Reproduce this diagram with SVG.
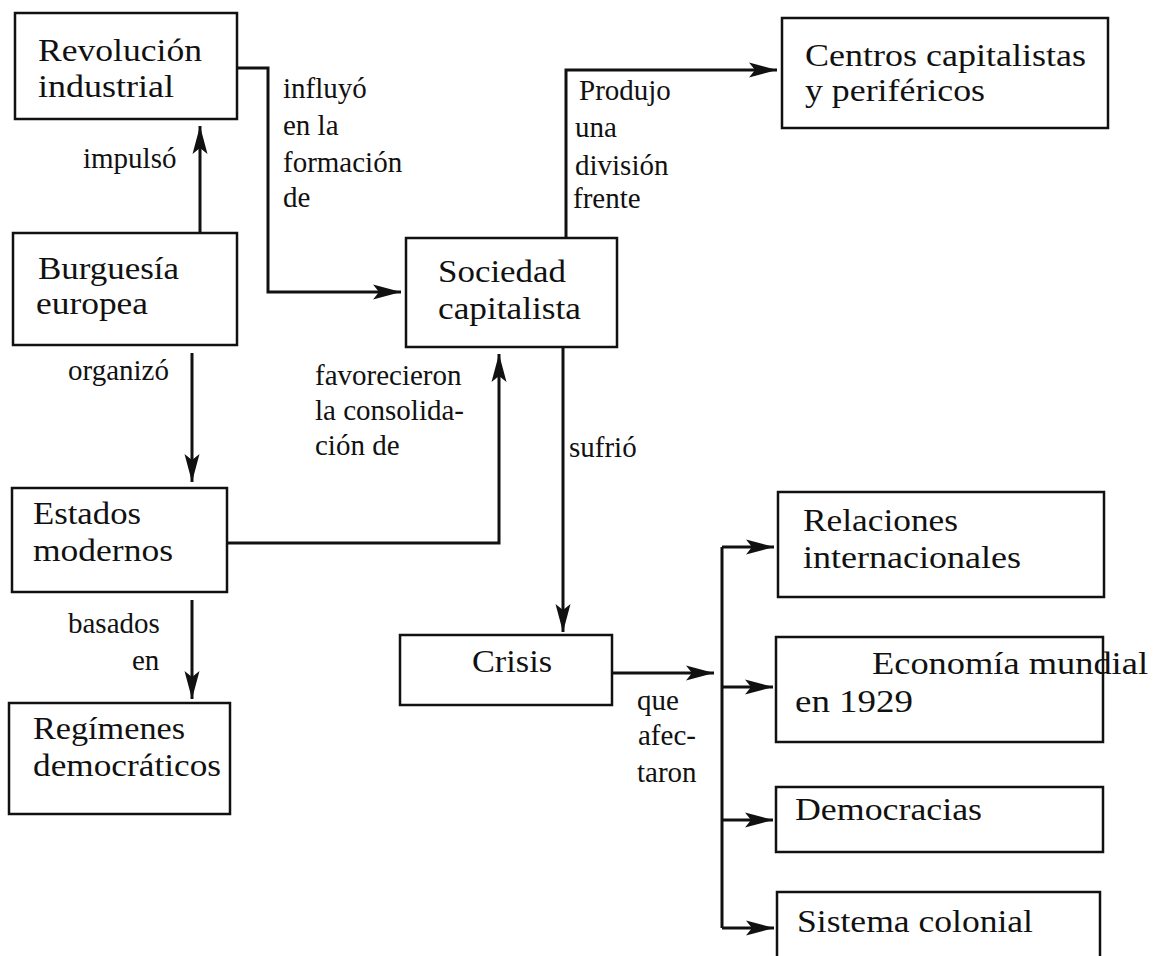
<svg xmlns="http://www.w3.org/2000/svg" width="1158" height="956" viewBox="0 0 1158 956">
<defs>
<style>
.box{fill:#fff;stroke:#111;stroke-width:2.5}
.con{fill:none;stroke:#111;stroke-width:3}
</style>
<marker id="ah" markerUnits="userSpaceOnUse" markerWidth="30" markerHeight="18" refX="28" refY="9" orient="auto">
<path d="M0,1.5 L28,9 L0,16.5 L6,9 z" fill="#111"/>
</marker>
</defs>
<rect width="1158" height="956" fill="#fff"/>

<g id="connectors">
<path class="con" d="M237,68 H268 V292 H401" marker-end="url(#ah)"/>
<path class="con" d="M200,233 V126" marker-end="url(#ah)"/>
<path class="con" d="M192,353 V482" marker-end="url(#ah)"/>
<path class="con" d="M226,543 H499 V354" marker-end="url(#ah)"/>
<path class="con" d="M192,600 V699" marker-end="url(#ah)"/>
<path class="con" d="M566,238 V70 H777" marker-end="url(#ah)"/>
<path class="con" d="M563,347 V632" marker-end="url(#ah)"/>
<path class="con" d="M612,673 H714" marker-end="url(#ah)"/>
<path class="con" d="M722,547 V928"/>
<path class="con" d="M722,547 H774" marker-end="url(#ah)"/>
<path class="con" d="M722,687 H773" marker-end="url(#ah)"/>
<path class="con" d="M722,820 H773" marker-end="url(#ah)"/>
<path class="con" d="M722,928 H774" marker-end="url(#ah)"/>
</g>

<g id="labels" font-family="'Liberation Serif','Times New Roman',serif" font-size="29" fill="#111">
<text x="83" y="168">impulsó</text>
<text x="283" y="98">influyó</text>
<text x="283" y="135">en la</text>
<text x="283" y="172">formación</text>
<text x="283" y="207">de</text>
<text x="68" y="380">organizó</text>
<text x="315" y="385">favorecieron</text>
<text x="315" y="420">la consolida-</text>
<text x="315" y="455">ción de</text>
<text x="68" y="633">basados</text>
<text x="132" y="670">en</text>
<text x="579" y="100">Produjo</text>
<text x="575" y="137">una</text>
<text x="575" y="175">división</text>
<text x="573" y="208">frente</text>
<text x="569" y="457">sufrió</text>
<text x="637" y="710">que</text>
<text x="638" y="745">afec-</text>
<text x="637" y="782">taron</text>
</g>

<g id="nodes" font-family="'Liberation Serif','Times New Roman',serif" font-size="32" fill="#111">
<g id="revolucion">
<rect class="box" x="15" y="13" width="222" height="106"/>
<text x="38" y="61" textLength="164" lengthAdjust="spacingAndGlyphs">Revolución</text>
<text x="38" y="97" textLength="136" lengthAdjust="spacingAndGlyphs">industrial</text>
</g>
<g id="burguesia">
<rect class="box" x="13" y="233" width="224" height="112"/>
<text x="38" y="279" textLength="141" lengthAdjust="spacingAndGlyphs">Burguesía</text>
<text x="36" y="314" textLength="112" lengthAdjust="spacingAndGlyphs">europea</text>
</g>
<g id="estados">
<rect class="box" x="12" y="488" width="215" height="104"/>
<text x="33" y="524" textLength="108" lengthAdjust="spacingAndGlyphs">Estados</text>
<text x="33" y="561" textLength="140" lengthAdjust="spacingAndGlyphs">modernos</text>
</g>
<g id="regimenes">
<rect class="box" x="9" y="703" width="221" height="111"/>
<text x="33" y="739" textLength="152" lengthAdjust="spacingAndGlyphs">Regímenes</text>
<text x="33" y="776" textLength="188" lengthAdjust="spacingAndGlyphs">democráticos</text>
</g>
<g id="sociedad">
<rect class="box" x="406" y="238" width="211" height="109"/>
<text x="438" y="282" textLength="128" lengthAdjust="spacingAndGlyphs">Sociedad</text>
<text x="438" y="319" textLength="143" lengthAdjust="spacingAndGlyphs">capitalista</text>
</g>
<g id="centros">
<rect class="box" x="782" y="18" width="326" height="110"/>
<text x="805" y="66" textLength="281" lengthAdjust="spacingAndGlyphs">Centros capitalistas</text>
<text x="805" y="101" textLength="180" lengthAdjust="spacingAndGlyphs">y periféricos</text>
</g>
<g id="crisis">
<rect class="box" x="400" y="635" width="212" height="70"/>
<text x="472" y="672" textLength="80" lengthAdjust="spacingAndGlyphs">Crisis</text>
</g>
<g id="relaciones">
<rect class="box" x="778" y="492" width="326" height="105"/>
<text x="803" y="531" textLength="155" lengthAdjust="spacingAndGlyphs">Relaciones</text>
<text x="803" y="568" textLength="218" lengthAdjust="spacingAndGlyphs">internacionales</text>
</g>
<g id="economia">
<rect class="box" x="776" y="637" width="327" height="105"/>
<text x="872" y="674" textLength="276" lengthAdjust="spacingAndGlyphs">Economía mundial</text>
<text x="795" y="712" textLength="118" lengthAdjust="spacingAndGlyphs">en 1929</text>
</g>
<g id="democracias">
<rect class="box" x="776" y="787" width="327" height="65"/>
<text x="795" y="820" textLength="187" lengthAdjust="spacingAndGlyphs">Democracias</text>
</g>
<g id="sistema">
<rect class="box" x="777" y="892" width="323" height="70"/>
<text x="797" y="932" textLength="236" lengthAdjust="spacingAndGlyphs">Sistema colonial</text>
</g>
</g>
</svg>
